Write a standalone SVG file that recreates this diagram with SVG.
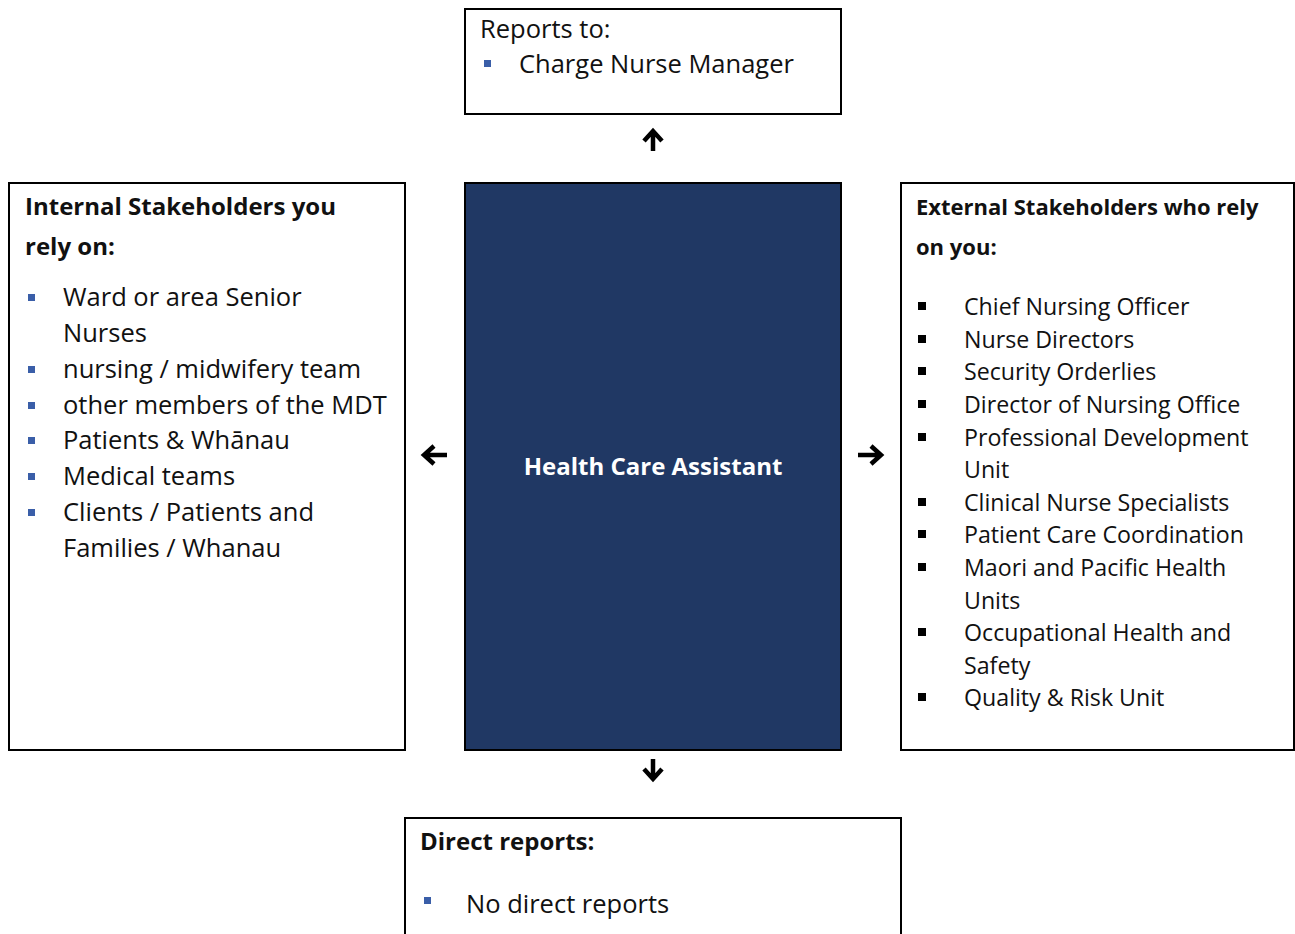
<svg xmlns="http://www.w3.org/2000/svg" width="1295" height="934" viewBox="0 0 1295 934">
<style>
.box{fill:#fff;stroke:#000;stroke-width:2}
.t{font-family:"Open Sans","Noto Sans",sans-serif;font-size:25.5px;fill:#111}
.b{font-weight:bold;font-size:24px}
.r{font-size:23.2px}
.rb{font-size:22px}
.bb{fill:#3a5ea8}
.kb{fill:#000}
.arr{fill:none;stroke:#000;stroke-width:4.5;stroke-linecap:butt;stroke-linejoin:miter}
</style>
<rect width="1295" height="934" fill="#fff"/>
<g id="reports-to">
<rect class="box" x="465" y="9" width="376" height="105"/>
<text class="t" x="480" y="38">Reports to:</text>
<rect class="bb" x="484" y="60" width="7" height="7"/>
<text class="t" x="519" y="73">Charge Nurse Manager</text>
</g>
<g id="internal">
<rect class="box" x="9" y="183" width="396" height="567"/>
<text class="t b" x="25" y="215">Internal Stakeholders you</text>
<text class="t b" x="25" y="255">rely on:</text>
<rect class="bb" x="28" y="294" width="7" height="7"/>
<text class="t" x="63" y="306">Ward or area Senior</text>
<text class="t" x="63" y="342">Nurses</text>
<rect class="bb" x="28" y="366" width="7" height="7"/>
<text class="t" x="63" y="378">nursing / midwifery team</text>
<rect class="bb" x="28" y="402" width="7" height="7"/>
<text class="t" x="63" y="414">other members of the MDT</text>
<rect class="bb" x="28" y="437" width="7" height="7"/>
<text class="t" x="63" y="449">Patients &amp; Whānau</text>
<rect class="bb" x="28" y="473" width="7" height="7"/>
<text class="t" x="63" y="485">Medical teams</text>
<rect class="bb" x="28" y="509" width="7" height="7"/>
<text class="t" x="63" y="521">Clients / Patients and</text>
<text class="t" x="63" y="557">Families / Whanau</text>
</g>
<g id="hca">
<rect x="465" y="183" width="376" height="567" fill="#203864" stroke="#000" stroke-width="2"/>
<text class="t b" x="653" y="475" text-anchor="middle" style="fill:#fff">Health Care Assistant</text>
</g>
<g id="external">
<rect class="box" x="901" y="183" width="393" height="567"/>
<text class="t b rb" x="916" y="215">External Stakeholders who rely</text>
<text class="t b rb" x="916" y="255">on you:</text>
<rect class="kb" x="918" y="302" width="8" height="8"/>
<text class="t r" x="964" y="315">Chief Nursing Officer</text>
<rect class="kb" x="918" y="335" width="8" height="8"/>
<text class="t r" x="964" y="348">Nurse Directors</text>
<rect class="kb" x="918" y="367" width="8" height="8"/>
<text class="t r" x="964" y="380">Security Orderlies</text>
<rect class="kb" x="918" y="400" width="8" height="8"/>
<text class="t r" x="964" y="413">Director of Nursing Office</text>
<rect class="kb" x="918" y="433" width="8" height="8"/>
<text class="t r" x="964" y="446">Professional Development</text>
<text class="t r" x="964" y="478">Unit</text>
<rect class="kb" x="918" y="498" width="8" height="8"/>
<text class="t r" x="964" y="511">Clinical Nurse Specialists</text>
<rect class="kb" x="918" y="530" width="8" height="8"/>
<text class="t r" x="964" y="543">Patient Care Coordination</text>
<rect class="kb" x="918" y="563" width="8" height="8"/>
<text class="t r" x="964" y="576">Maori and Pacific Health</text>
<text class="t r" x="964" y="609">Units</text>
<rect class="kb" x="918" y="628" width="8" height="8"/>
<text class="t r" x="964" y="641">Occupational Health and</text>
<text class="t r" x="964" y="674">Safety</text>
<rect class="kb" x="918" y="693" width="8" height="8"/>
<text class="t r" x="964" y="706">Quality &amp; Risk Unit</text>
</g>
<g id="direct-reports">
<rect class="box" x="405" y="818" width="496" height="130"/>
<text class="t b" x="420" y="850">Direct reports:</text>
<rect class="bb" x="424" y="897" width="7" height="7"/>
<text class="t" x="466" y="913">No direct reports</text>
</g>
<g id="connectors">
<path class="arr" d="M653 151 V132 M644 141 L653 131 L662 141"/>
<path class="arr" d="M653 759 V779 M644 769 L653 779 L662 769"/>
<path class="arr" d="M447 455 H425 M434 446 L424 455 L434 464"/>
<path class="arr" d="M858 455 H881 M871 446 L881 455 L871 464"/>
</g>
</svg>
